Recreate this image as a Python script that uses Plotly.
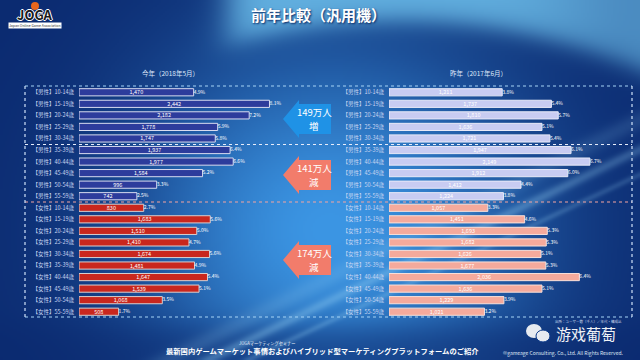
import numpy as np, zlib, struct, base64
import plotly.graph_objects as go

# ---------------- data ----------------
ages = ["10-14歳", "15-19歳", "20-24歳", "25-29歳", "30-34歳",
        "35-39歳", "40-44歳", "45-49歳", "50-54歳", "55-59歳"]
men_labels = ["【男性】" + a for a in ages]
women_labels = ["【女性】" + a for a in ages]

cur_men = [1470, 2442, 2182, 1778, 1747, 1937, 1977, 1584, 996, 742]
cur_men_pct = ["4.9%", "8.1%", "7.2%", "5.9%", "5.8%", "6.4%", "6.6%", "5.2%", "3.3%", "2.5%"]
cur_women = [830, 1683, 1510, 1410, 1674, 1481, 1647, 1539, 1068, 508]
cur_women_pct = ["2.7%", "5.6%", "5.0%", "4.7%", "5.6%", "4.9%", "5.4%", "5.1%", "3.5%", "1.7%"]

prev_men = [1211, 1737, 1810, 1636, 1721, 1947, 2149, 1912, 1412, 1224]
prev_men_pct = ["3.8%", "5.4%", "5.7%", "5.1%", "5.4%", "6.1%", "6.7%", "6.0%", "4.4%", "3.8%"]
prev_women = [1057, 1451, 1693, 1682, 1626, 1677, 2036, 1636, 1229, 1021]
prev_women_pct = ["3.3%", "4.6%", "5.3%", "5.3%", "5.1%", "5.3%", "6.4%", "5.1%", "3.9%", "3.2%"]

callout_amounts = ["149万人", "141万人", "174万人"]
callout_dirs = ["増", "減", "減"]

title = "前年比較（汎用機）"
sub_cur = "今年（2018年5月）"
sub_prev = "昨年（2017年6月）"

W, H = 640, 360
FONT = "Noto Sans CJK JP"


def px(x):
    return x / W


def py(y):
    return 1 - y / H


# ---------------- background image ----------------
def make_bg():
    w, h = 320, 180
    xx, yy = np.meshgrid(np.linspace(0, W, w), np.linspace(0, H, h))
    col = np.zeros((h, w, 3))
    dark = np.array([11, 42, 112])
    col[:] = dark
    # central brighter glow
    g = np.exp(-(((xx - 330) / 205) ** 2 + ((yy - 230) / 185) ** 2))
    col = col * (1 - g[..., None]) + np.array([60, 150, 228]) * g[..., None]
    # dark bottom band
    b = 1 / (1 + np.exp(-(yy - 328) / 8))
    col = col * (1 - 0.5 * b[..., None]) + np.array([10, 40, 110]) * 0.5 * b[..., None]
    # top-right light arc
    d = np.sqrt((xx - 400) ** 2 + (yy - 640) ** 2)
    a = 1 / (1 + np.exp(-(d - 620) / 7)) * 1 / (1 + np.exp(-(xx - 228) / 10))
    col = col * (1 - 0.85 * a[..., None]) + np.array([112, 196, 240]) * 0.85 * a[..., None]
    # diagonal streaks
    for (x0, y0, x1, y1, wd, s) in [(210, 360, 640, 150, 5, 0.35), (250, 360, 640, 175, 3, 0.25),
                                     (170, 360, 640, 120, 9, 0.18)]:
        dx, dy = x1 - x0, y1 - y0
        L = np.hypot(dx, dy)
        dist = np.abs((xx - x0) * dy - (yy - y0) * dx) / L
        t = np.exp(-(dist / wd) ** 2) * s
        col = col * (1 - t[..., None]) + np.array([150, 210, 245]) * t[..., None]
    # darken far left and far right
    e = np.exp(-((xx - 0) / 120) ** 2) * 0.35 + np.exp(-((xx - 640) / 90) ** 2) * 0.25
    col = col * (1 - e[..., None]) + dark * e[..., None]
    arr = np.clip(col, 0, 255).astype(np.uint8)
    raw = b"".join(b"\x00" + arr[i].tobytes() for i in range(h))

    def chunk(t, dd):
        c = struct.pack(">I", len(dd)) + t + dd
        return c + struct.pack(">I", zlib.crc32(t + dd) & 0xffffffff)

    png = (b"\x89PNG\r\n\x1a\n" + chunk(b"IHDR", struct.pack(">IIBBBBB", w, h, 8, 2, 0, 0, 0))
           + chunk(b"IDAT", zlib.compress(raw, 9)) + chunk(b"IEND", b""))
    return "data:image/png;base64," + base64.b64encode(png).decode()


# ---------------- figure ----------------
cats = men_labels + women_labels
fig = go.Figure()

bar_common = dict(orientation="h", width=0.62, texttemplate="%{x:,}", textposition="inside",
                  insidetextanchor="middle", constraintext="none", textangle=0,
                  textfont=dict(size=5.5, color="white", family=FONT), hoverinfo="skip")

fig.add_trace(go.Bar(x=cur_men, y=men_labels, marker=dict(color="#2d3c9c", line=dict(color="#d9dcf0", width=1)),
                     xaxis="x", yaxis="y", **bar_common))
fig.add_trace(go.Bar(x=cur_women, y=women_labels, marker=dict(color="#c9271e", line=dict(color="#d8d0d0", width=1)),
                     xaxis="x", yaxis="y", **bar_common))
fig.add_trace(go.Bar(x=prev_men, y=men_labels, marker=dict(color="#c8ccf2", line=dict(color="#e8eaf8", width=1)),
                     xaxis="x2", yaxis="y2", **bar_common))
fig.add_trace(go.Bar(x=prev_women, y=women_labels, marker=dict(color="#f5aa9c", line=dict(color="#f8e0da", width=1)),
                     xaxis="x2", yaxis="y2", **bar_common))

pct_font = dict(size=5, color="white", family=FONT)
fig.add_trace(go.Scatter(x=cur_men + cur_women, y=cats, text=cur_men_pct + cur_women_pct, mode="text",
                         textposition="middle right", textfont=pct_font, xaxis="x", yaxis="y", hoverinfo="skip"))
fig.add_trace(go.Scatter(x=prev_men + prev_women, y=cats, text=prev_men_pct + prev_women_pct, mode="text",
                         textposition="middle right", textfont=pct_font, xaxis="x2", yaxis="y2", hoverinfo="skip"))

ydom = [py(317.5), py(86.5)]
yax = dict(type="category", categoryorder="array", categoryarray=cats, range=[19.5, -0.5],
           domain=ydom, showgrid=False, zeroline=False, showline=False, ticks="",
           tickfont=dict(size=5.5, color="#c9d6f2", family=FONT), ticklabelstandoff=4)
fig.update_layout(
    width=W, height=H, margin=dict(l=0, r=0, t=0, b=0),
    paper_bgcolor="#0c3a8a", plot_bgcolor="rgba(0,0,0,0)",
    showlegend=False, barmode="overlay", hovermode=False,
    xaxis=dict(domain=[px(79), px(330)], range=[0, 251 / 0.078], visible=False, fixedrange=True),
    xaxis2=dict(domain=[px(389), px(630)], range=[0, 241 / 0.0935], visible=False, fixedrange=True),
    yaxis=dict(anchor="x", fixedrange=True, **yax),
    yaxis2=dict(anchor="x2", fixedrange=True, **yax),
    images=[dict(source=make_bg(), xref="paper", yref="paper", x=0, y=1, sizex=1, sizey=1,
                 sizing="stretch", xanchor="left", yanchor="top", layer="below")],
)

shapes = []
dot = dict(xref="paper", yref="paper", type="line")
shapes.append(dict(x0=px(25), x1=px(632), y0=py(86), y1=py(86), line=dict(color="#a6d4f6", width=1.2, dash="dot"), **dot))
shapes.append(dict(x0=px(25), x1=px(632), y0=py(144.5), y1=py(144.5), line=dict(color="#e6ecfa", width=1.2, dash="dot"), **dot))
shapes.append(dict(x0=px(25), x1=px(632), y0=py(202), y1=py(202), line=dict(color="#f3a3a0", width=1.2, dash="dot"), **dot))
shapes.append(dict(x0=px(25), x1=px(632), y0=py(317), y1=py(317), line=dict(color="#a6d4f6", width=1.2, dash="dot"), **dot))
shapes.append(dict(x0=px(25), x1=px(25), y0=py(86), y1=py(317), line=dict(color="#cfe2f8", width=1.2, dash="dot"), **dot))
shapes.append(dict(x0=px(632), x1=px(632), y0=py(86), y1=py(317), line=dict(color="#cfe2f8", width=1.2, dash="dot"), **dot))


def arrow(cy, color):
    pts = [(283, cy), (299, cy - 19), (299, cy - 15), (331, cy - 15), (331, cy + 15),
           (299, cy + 15), (299, cy + 19)]
    path = "M " + " L ".join(f"{px(x):.5f},{py(y):.5f}" for x, y in pts) + " Z"
    return dict(type="path", path=path, xref="paper", yref="paper", fillcolor=color,
                line=dict(width=0), layer="above")


arrow_specs = [(119, "#1f92e6"), (175, "#f27c6b"), (260, "#f27c6b")]
for cy, c in arrow_specs:
    shapes.append(arrow(cy, c))

# WeChat-like icon
shapes.append(dict(type="circle", xref="paper", yref="paper", x0=px(526), x1=px(542), y0=py(338), y1=py(324),
                   fillcolor="#e6eaf0", line=dict(width=0)))
shapes.append(dict(type="circle", xref="paper", yref="paper", x0=px(536), x1=px(550), y0=py(342), y1=py(330),
                   fillcolor="#e6eaf0", line=dict(color="#0c3a8a", width=1)))
# JOGA logo head
shapes.append(dict(type="circle", xref="paper", yref="paper", x0=px(31), x1=px(39), y0=py(10), y1=py(2),
                   fillcolor="#e8661c", line=dict(width=0)))
fig.update_layout(shapes=shapes)

ann = []


def text(x, y, s, size, color="white", bold=False, xanchor="center", **kw):
    ann.append(dict(x=px(x), y=py(y), xref="paper", yref="paper", text=f"<b>{s}</b>" if bold else s,
                    showarrow=False, xanchor=xanchor, yanchor="middle",
                    font=dict(size=size, color=color, family=FONT, **kw.pop("fkw", {})), **kw))


text(318, 15, title, 15, bold=True, fkw=dict(shadow="1px 1px 2px #0a2a66"))
text(170, 73, sub_cur, 6.5, color="#dfe8fa")
text(478, 73, sub_prev, 6.5, color="#dfe8fa")
for (cy, _), s1, s2 in zip(arrow_specs, callout_amounts, callout_dirs):
    text(314, cy - 7, s1, 9.5)
    text(314, cy + 7, s2, 9.5)

text(35, 15, "JOGA", 13, color="#1b1b1b", bold=True,
     fkw=dict(shadow="1px 0 0 #fff, -1px 0 0 #fff, 0 1px 0 #fff, 0 -1px 0 #fff"))
text(35, 26, "Japan Online Game Association", 3.5, color="#333", bgcolor="white", borderpad=0)

text(267, 343, "JOGAマーケティングセミナー", 4.2, color="#e8eef8")
text(322, 351, "最新国内ゲームマーケット事情およびハイブリッド型マーケティングプラットフォームのご紹介", 7.3,
     color="white", bold=True)
text(563, 353, "©gameage Consulting. Co., Ltd. All Rights Reserved.", 5, color="#dfe6f4")
text(588, 321, "出所：ユーザー数（千人）／年代・構成比", 3.5, color="#c8d4ea")
text(586, 333, "游戏葡萄", 15, color="#f0f2f6")
fig.update_layout(annotations=ann)

fig.write_html("out.html", config={"displayModeBar": False, "staticPlot": True},
               post_script="document.body.style.margin='0';document.body.style.overflow='hidden';")
